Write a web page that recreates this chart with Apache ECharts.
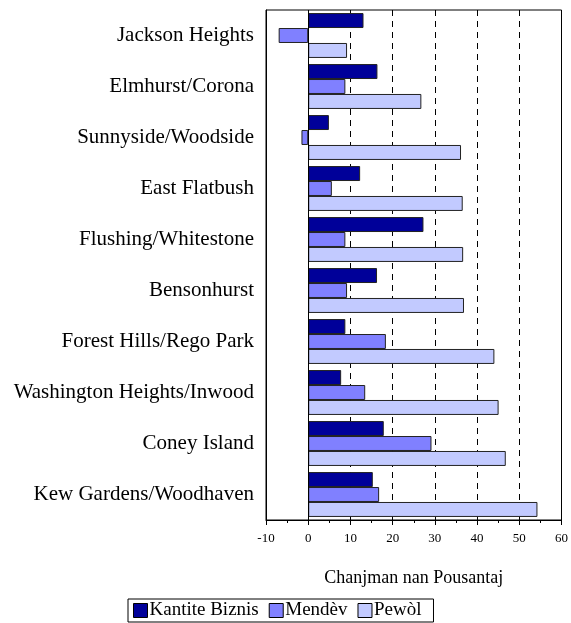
<!DOCTYPE html>
<html>
<head>
<meta charset="utf-8">
<script src="https://cdn.jsdelivr.net/npm/echarts@6/dist/echarts.min.js"></script>
<style>html,body{margin:0;background:#fff}#main{width:571px;height:623px}</style>
</head>
<body>
<div id="main"></div>
<script>
var categories = ['Jackson Heights', 'Elmhurst/Corona', 'Sunnyside/Woodside', 'East Flatbush',
    'Flushing/Whitestone', 'Bensonhurst', 'Forest Hills/Rego Park',
    'Washington Heights/Inwood', 'Coney Island', 'Kew Gardens/Woodhaven'];
var kantite = [13.1, 16.4, 4.9, 12.3, 27.3, 16.3, 8.8, 7.8, 17.9, 15.3];
var mendev = [-7.0, 8.8, -1.6, 5.6, 8.8, 9.2, 18.4, 13.5, 29.2, 16.8];
var pewol = [9.2, 26.8, 36.2, 36.6, 36.7, 36.9, 44.1, 45.1, 46.8, 54.3];

var font = 'Liberation Serif, Times New Roman, serif';
var chart = echarts.init(document.getElementById('main'));

function bar(name, data, color) {
    return {
        name: name, type: 'bar', data: data,
        barGap: '0%', barCategoryGap: '12%',
        itemStyle: { color: color, borderColor: '#222', borderWidth: 1 }
    };
}

chart.setOption({
    animation: false,
    textStyle: { fontFamily: font },
    grid: { left: 266, right: 7, top: 10, bottom: 103, show: true, borderColor: '#000', borderWidth: 1 },
    legend: {
        bottom: 1, left: 128, itemGap: 10,
        icon: 'rect', itemWidth: 14, itemHeight: 14,
        borderColor: '#000', borderWidth: 1, padding: [2, 12, 2, 5],
        textStyle: { fontFamily: font, fontSize: 19, color: '#000', padding: [0, 0, 0, -3] },
        itemStyle: { borderColor: '#000', borderWidth: 1 },
        data: ['Kantite Biznis', 'Mendèv', 'Pewòl']
    },
    xAxis: {
        type: 'value', min: -10, max: 60, interval: 10,
        name: 'Chanjman nan Pousantaj', nameLocation: 'middle', nameGap: 49,
        nameTextStyle: { fontFamily: font, fontSize: 18, color: '#000' },
        axisLine: { show: true, lineStyle: { color: '#000' } },
        axisTick: { show: true, lineStyle: { color: '#000' } },
        minorTick: { show: true, splitNumber: 2, length: 3, lineStyle: { color: '#000' } },
        axisLabel: { fontFamily: font, fontSize: 13, color: '#000', margin: 12 },
        splitLine: { show: true, lineStyle: { color: '#000', type: [6, 5] } }
    },
    yAxis: {
        type: 'category', data: categories, inverse: true,
        axisLine: { show: true, onZero: false, lineStyle: { color: '#000' } },
        axisTick: { show: false },
        axisLabel: { fontFamily: font, fontSize: 21, color: '#000', margin: 12 }
    },
    series: [
        bar('Kantite Biznis', kantite, '#000099'),
        bar('Mendèv', mendev, '#8080ff'),
        bar('Pewòl', pewol, '#c2caff'),
        { type: 'line', data: [], markLine: { symbol: 'none', silent: true, label: { show: false },
            lineStyle: { color: '#000', type: 'solid', width: 1 }, data: [{ xAxis: 0 }] } }
    ]
});
</script>
</body>
</html>
